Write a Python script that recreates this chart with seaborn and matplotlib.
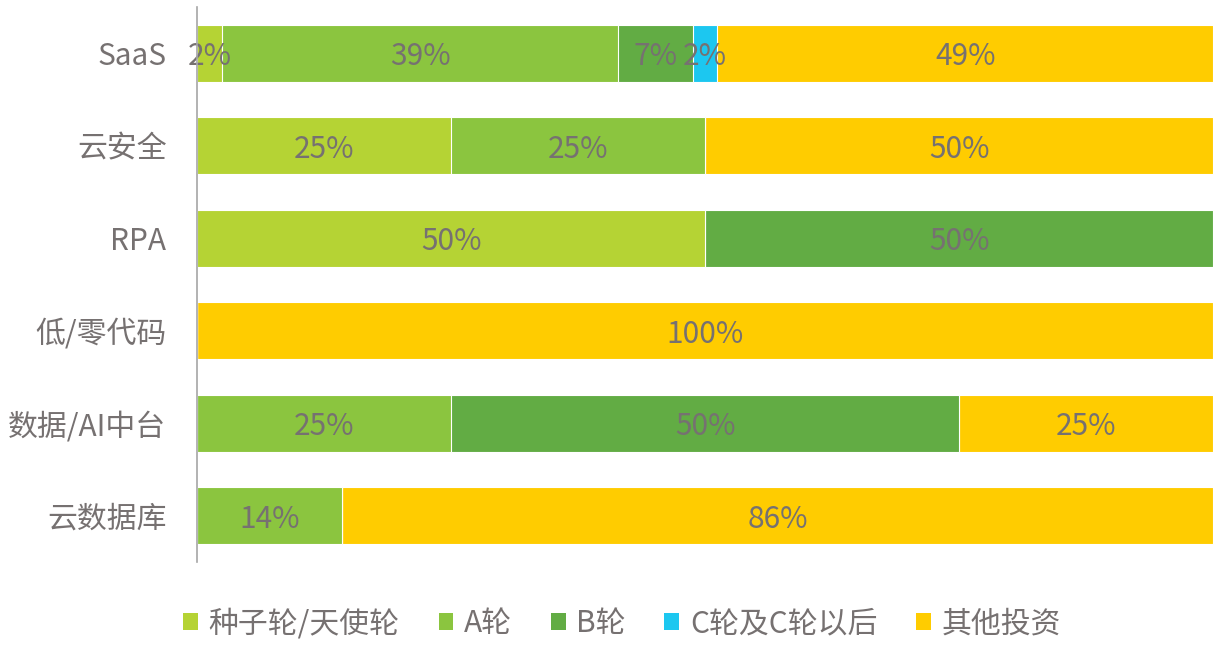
import matplotlib
matplotlib.use("Agg")
import matplotlib.pyplot as plt
from matplotlib.patches import Patch
import matplotlib.transforms as mtransforms
import seaborn as sns
import pandas as pd
import numpy as np

categories = ["SaaS", "云安全", "RPA", "低/零代码", "数据/AI中台", "云数据库"]
rounds = ["种子轮/天使轮", "A轮", "B轮", "C轮及C轮以后", "其他投资"]
seed = [2.44, 25.0, 50.0, 0.0, 0.0, 0.0]
round_a = [39.02, 25.0, 0.0, 0.0, 25.0, 14.29]
round_b = [7.32, 0.0, 50.0, 0.0, 50.0, 0.0]
round_c = [2.44, 0.0, 0.0, 0.0, 0.0, 0.0]
other = [48.78, 50.0, 0.0, 100.0, 25.0, 85.71]
colors = ["#B5D334", "#8BC53F", "#62AC44", "#1CC7F0", "#FFCC00"]

series = [seed, round_a, round_b, round_c, other]
text_color = "#767171"

sns.set_theme(style="white")
plt.rcParams["font.family"] = ["Noto Sans CJK SC", "DejaVu Sans"]

fig = plt.figure(figsize=(12.27, 6.51), dpi=100)
ax = fig.add_axes([197 / 1227, 1 - 562 / 651, 1016 / 1227, 555 / 651])

vals = np.array(series)  # shape (5, 6)
cum = np.cumsum(vals, axis=0)

# draw from the last cumulative level to the first so that segments overlay
for i in range(len(rounds) - 1, -1, -1):
    df = pd.DataFrame({"category": categories, "value": cum[i]})
    sns.barplot(data=df, x="value", y="category", order=categories,
                color=colors[i], width=0.62, edgecolor="white",
                linewidth=0.8, saturation=1, ax=ax, orient="h")

# value labels (slightly lowered to visually centre the digits)
label_tr = mtransforms.offset_copy(ax.transData, fig=fig, x=0, y=-2.5, units="points")
for i in range(len(rounds)):
    starts = cum[i] - vals[i]
    for j, cat in enumerate(categories):
        v = vals[i][j]
        if v > 0:
            ax.text(starts[j] + v / 2, j, f"{v:.0f}%", ha="center", va="center",
                    fontsize=21.5, color=text_color, transform=label_tr)

ax.set_xlim(0, 100)
ax.set_ylim(len(categories) - 0.5, -0.5)
ax.set_xlabel("")
ax.set_ylabel("")
ax.set_xticks([])
ax.tick_params(axis="y", length=0, pad=22, labelsize=21.5, labelcolor=text_color)
for s in ["top", "right", "bottom"]:
    ax.spines[s].set_visible(False)
ax.spines["left"].set_color("#A6A6A6")
ax.spines["left"].set_linewidth(1.2)
ax.spines["left"].set_zorder(5)

handles = [Patch(facecolor=c, edgecolor="none") for c in colors]
fig.legend(handles, rounds, loc="center", bbox_to_anchor=(0.507, 0.042),
           ncol=5, frameon=False, fontsize=21.5, labelcolor=text_color,
           handlelength=0.5, handleheight=0.5, handletextpad=0.35,
           columnspacing=1.3)

fig.savefig("out.png", dpi=100)
